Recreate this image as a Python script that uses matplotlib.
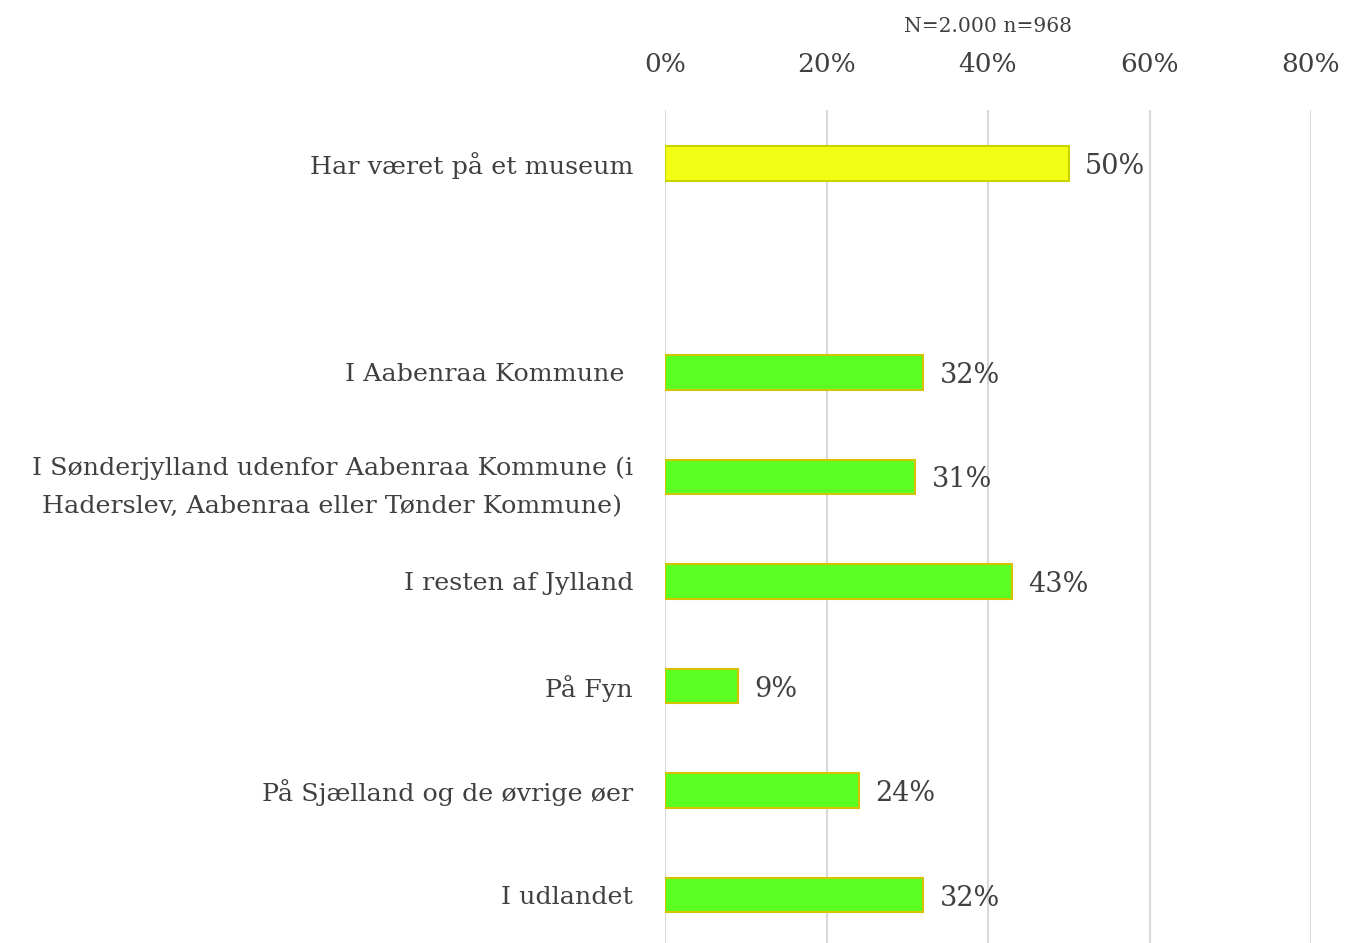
import matplotlib.pyplot as plt
from matplotlib.ticker import PercentFormatter

# categories top to bottom ('' is the empty spacer row)
categories = [
    'Har været på et museum',
    '',
    'I Aabenraa Kommune ',
    'I Sønderjylland udenfor Aabenraa Kommune (i\nHaderslev, Aabenraa eller Tønder Kommune)',
    'I resten af Jylland',
    'På Fyn',
    'På Sjælland og de øvrige øer',
    'I udlandet',
]
values = [0.50, None, 0.32, 0.31, 0.43, 0.09, 0.24, 0.32]
labels = ['50%', '', '32%', '31%', '43%', '9%', '24%', '32%']
fill_colors = ['#F2FF14', None, '#5CFF22', '#5CFF22', '#5CFF22', '#5CFF22', '#5CFF22', '#5CFF22']
edge_colors = ['#C8D400', None, '#D4C400', '#D4C400', '#D4C400', '#D4C400', '#D4C400', '#D4C400']

text_color = '#404040'
plt.rcParams['font.family'] = ['DejaVu Serif']

fig = plt.figure(figsize=(13.46, 9.43), dpi=100)
ax = fig.add_axes([665 / 1346, 0.0, 646 / 1346, 1 - 110 / 943])

ypos = list(range(len(categories)))
for y, v, fc, ec, lab in zip(ypos, values, fill_colors, edge_colors, labels):
    if v is None:
        continue
    ax.barh(y, v, height=0.33, color=fc, edgecolor=ec, linewidth=1.5, zorder=3)
    ax.text(v + 0.02, y + 0.03, lab, va='center', ha='left', fontsize=19.5,
            color=text_color)

ax.set_ylim(7.46, -0.51)
ax.set_xlim(0, 0.8)
ax.set_xticks([0, 0.2, 0.4, 0.6, 0.8])
ax.xaxis.set_major_formatter(PercentFormatter(1.0, decimals=0))
ax.xaxis.tick_top()
ax.tick_params(axis='x', length=0, pad=24, labelsize=19, labelcolor=text_color)
ax.set_yticks(ypos)
ax.set_yticklabels(categories, fontsize=18.3, color=text_color)
ax.tick_params(axis='y', length=0, pad=23)
for t in ax.get_yticklabels():
    t.set_multialignment('center')
    t.set_linespacing(1.85)
ax.grid(axis='x', color='#D9D9D9', linewidth=1.5, zorder=0)
for s in ax.spines.values():
    s.set_visible(False)

fig.text(988 / 1346, 1 - 27 / 943, 'N=2.000 n=968', ha='center', va='center',
         fontsize=14.6, color=text_color)

fig.savefig('out.png', dpi=100)
